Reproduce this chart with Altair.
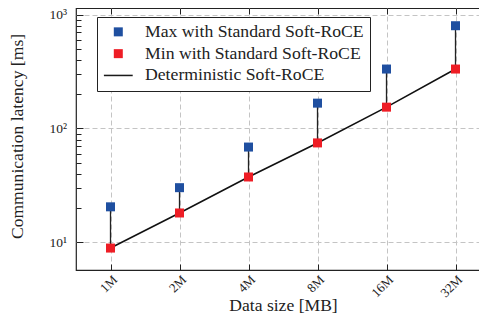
import altair as alt
import pandas as pd

# ---- data ----
sizes = ["1M", "2M", "4M", "8M", "16M", "32M"]
max_lat = [20.5, 30.2, 68.7, 167, 333, 800]
min_lat = [8.9, 18.1, 37.5, 74.7, 154, 333]
det_lat = [8.9, 18.1, 37.5, 74.7, 154, 333]
series_names = ["Max with Standard Soft-RoCE", "Min with Standard Soft-RoCE", "Deterministic Soft-RoCE"]
series_colors = ["#1f4fa0", "#ee1d25", "#1a1a1a"]
major_ticks = [10, 100, 1000]
minor_ticks = [20, 30, 40, 50, 60, 70, 80, 90, 200, 300, 400, 500, 600, 700, 800, 900]

FONT = "Liberation Serif"
INK = "#222222"
LINE_SYMBOL = "M-3.2,-0.17H3.2V0.17H-3.2Z"

range_df = pd.DataFrame({"size": sizes, "lo": min_lat, "hi": max_lat})
det_df = pd.DataFrame({"size": sizes, "lat": det_lat})
pts_df = pd.DataFrame({
    "size": sizes + sizes,
    "lat": max_lat + min_lat,
    "series": [series_names[0]] * len(sizes) + [series_names[1]] * len(sizes),
})

xscale = alt.Scale(type="point", domain=sizes, padding=0.5)
yscale = alt.Scale(type="log", domain=[5.71, 1145], nice=False)

rules = alt.Chart(range_df).mark_rule(color=INK, strokeWidth=1.3).encode(
    x=alt.X("size:N", scale=xscale, sort=sizes, axis=alt.Axis(
        orient="bottom", title="Data size [MB]", grid=True, gridDash=[5, 3],
        gridColor="#c4c4c4", gridWidth=1, domain=False, offset=-6, tickSize=6,
        tickColor=INK, labelAngle=-45, labelAlign="right", labelBaseline="top",
        labelPadding=3, labelFont=FONT, labelFontSize=13, labelColor=INK,
        titleFont=FONT, titleFontSize=17.6, titleFontWeight="normal", titleColor=INK,
        titleX=207, titleY=46.8, titleBaseline="alphabetic")),
    y=alt.Y("lo:Q", scale=yscale, axis=alt.Axis(
        orient="left", values=major_ticks, title="Communication latency [ms]",
        grid=True, gridDash=[5, 3], gridColor="#c4c4c4", gridWidth=1,
        domain=False, offset=-7, tickSize=7, tickColor=INK,
        labelExpr="datum.value == 10 ? '10¹' : (datum.value == 100 ? '10²' : '10³')",
        labelPadding=9.5, labelFont=FONT, labelFontSize=13.5, labelColor=INK,
        titleFont=FONT, titleFontSize=17.6, titleFontWeight="normal", titleColor=INK,
        titleX=-66, titleY=128, titleBaseline="middle", titleAngle=270)),
    y2="hi:Q",
)

line = alt.Chart(det_df).mark_line(color="#111111", strokeWidth=1.6).encode(
    x=alt.X("size:N", scale=xscale, sort=sizes, axis=alt.Axis(
        orient="top", labels=False, title=None, grid=False, domain=False,
        offset=-6, tickSize=6, tickColor=INK)),
    y=alt.Y("lat:Q", scale=yscale, axis=alt.Axis(
        orient="left", values=minor_ticks, labels=False, title=None, grid=False,
        domain=False, offset=-5, tickSize=5, tickColor=INK)),
)

legend = alt.Legend(
    title=None, orient="none", legendX=21, legendY=9, padding=6,
    strokeColor=INK, fillColor="white", cornerRadius=0,
    labelFont=FONT, labelFontSize=17.7, labelColor=INK, labelLimit=400,
    symbolSize=81, symbolOffset=6.45, labelOffset=17.85, rowPadding=2.8,
)

pts = alt.Chart(pts_df).mark_point(filled=True, size=81, opacity=1).encode(
    x=alt.X("size:N", scale=xscale, sort=sizes, axis=None),
    y=alt.Y("lat:Q", scale=yscale, axis=None),
    color=alt.Color("series:N", scale=alt.Scale(domain=series_names, range=series_colors), legend=legend),
    shape=alt.Shape("series:N", scale=alt.Scale(domain=series_names, range=["square", "square", LINE_SYMBOL]), legend=legend),
)

chart = alt.layer(rules, line, pts).resolve_axis(
    x="independent", y="independent"
).properties(
    width=414, height=262,
    padding={"left": 68, "top": 0, "right": -11, "bottom": 44},
    autosize=alt.AutoSizeParams(type="none"),
    background="white",
).configure_view(stroke=INK, strokeWidth=1.2)

chart.save("out.html", embed_options={"renderer": "svg", "actions": False})
